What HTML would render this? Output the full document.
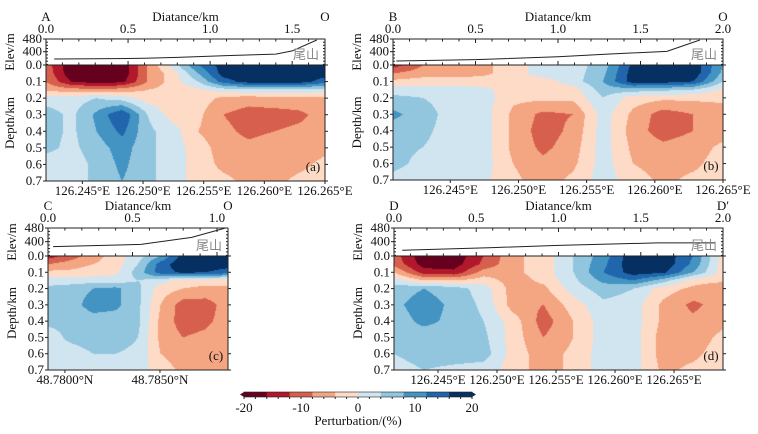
<!DOCTYPE html>
<html><head><meta charset="utf-8">
<style>
html,body{margin:0;padding:0;background:#fff;}
#wrap{position:relative;width:758px;height:434px;overflow:hidden;font-family:"Liberation Serif","Times New Roman","DejaVu Serif",serif;}
canvas{position:absolute;}
svg{position:absolute;left:0;top:0;font-family:"Liberation Serif","Times New Roman","DejaVu Serif",serif;}
svg text{font-family:"Liberation Serif","Times New Roman","DejaVu Serif",serif;}
svg text.cjk{font-family:"Noto Sans CJK SC","WenQuanYi Zen Hei",sans-serif;}
</style></head>
<body>
<div id="wrap">
<canvas id="cvA" style="left:46px;top:65px" width="279" height="116"></canvas>
<canvas id="cvB" style="left:393px;top:65px" width="330" height="115"></canvas>
<canvas id="cvC" style="left:48px;top:256px" width="180" height="114"></canvas>
<canvas id="cvD" style="left:394px;top:256px" width="329" height="114"></canvas>
<svg id="ov" width="758" height="434"></svg>
</div>
<script>
// ---- data ----
const depthRows=[0,0.05,0.1,0.15,0.2,0.3,0.4,0.5,0.6,0.7];
const levelColors=["#67001f","#b2182b","#d6604d","#f4a582","#fddbc7","#d1e5f0","#92c5de","#4393c3","#2166ac","#053061"];
const cbTicks=[-20,-10,0,10,20];
const gridA=[
[-10,-19,-19,-19,-8,2,12,18,19,19,19,18],
[-9,-19,-19,-19,-8,-2,8,18,19,19,19,18],
[-8,-16,-18,-17,-8,-2,4,14,18,18,18,14],
[-5,-6,-7,-6,-4,-2,-1,2,3,3,3,2],
[2,2,4,2,-2,-2,-2,-5,-6,-5,-5,-5],
[6,3,9,16,4,-2,-3,-8,-10,-10,-9,-6],
[6,3,8,13,5,2,-4,-7,-9,-8,-7,-6],
[5,3,6,10,5,2,-2,-6,-7,-6,-6,-5],
[2,2,5,9,5,2,-2,-5,-6,-6,-5,-3],
[2,2,5,8,5,2,-2,-3,-5,-5,-3,-2]];
const gridB=[
[-14,-8,-6,-5,-2,2,2,6,17,19,19,8],
[-8,-6,-6,-5,-2,2,2,7,18,19,19,7],
[-3,-2,-2,-2,-1,-2,2,8,18,18,16,4],
[2,2,2,1,-2,-2,-2,6,6,5,4,-1],
[5,4,2,2,-3,-3,-3,4,-2,-3,-3,-3],
[9,6,2,2,-5,-9,-8,2,-5,-10,-8,-6],
[6,5,2,2,-5,-10,-7,2,-6,-10,-8,-6],
[5,4,2,2,-5,-9,-6,2,-5,-7,-6,-3],
[5,3,2,2,-4,-7,-5,2,-4,-6,-5,-2],
[3,2,2,1,-3,-6,-3,2,-2,-5,-3,-2]];
const gridC=[
[-14,-10,-6,-2,2,8,18,19,19],
[-8,-6,-4,-2,4,14,19,19,18],
[-3,-3,-2,-1,6,14,17,16,14],
[2,2,2,2,4,2,-2,-2,-2],
[5,6,8,9,5,-2,-4,-5,-5],
[6,6,10,9,5,-4,-10,-10,-6],
[5,5,6,6,5,-5,-10,-9,-6],
[2,5,6,6,4,-5,-8,-7,-5],
[2,2,4,4,3,-4,-6,-6,-5],
[2,2,2,2,2,-2,-5,-5,-4]];
const gridD=[
[-10,-19,-19,-12,-5,-2,4,10,19,19,12,-2],
[-9,-18,-18,-11,-5,-2,4,11,19,19,11,-2],
[-4,-14,-15,-6,-5,-2,4,12,18,17,8,-2],
[2,-4,-4,-2,-6,-3,3,9,12,6,-2,-3],
[6,8,6,2,-6,-5,2,6,4,-2,-5,-8],
[7,10,7,3,-6,-8,-2,3,2,-5,-9,-6],
[6,9,7,4,-2,-10,-4,2,2,-5,-7,-5],
[6,6,6,5,-2,-8,-4,2,2,-6,-6,-3],
[4,6,6,6,-2,-6,-3,2,2,-6,-5,-2],
[2,4,3,2,-2,-6,-3,2,2,-5,-3,-2]];
const elevDistA=[0.05,0.3,0.6,0.8,1.1,1.4,1.5,1.65];
const elevA=[354,355,358,364,375,385,405,474];
const elevDistB=[0.02,0.5,1.0,1.3,1.66,1.86];
const elevB=[341,350,368,385,402,474];
const elevDistC=[0.03,0.55,0.85,1.05];
const elevC=[371,384,425,480];
const elevDistD=[0.05,0.6,1.0,1.6,1.95];
const elevD=[350,365,378,393,393];
const depthTicks=[0,0.1,0.2,0.3,0.4,0.5,0.6,0.7];
const elevTicks=[480,400];

// ---- rendering ----
function levelIndex(v){let i=Math.floor((v+20)/4);return Math.max(0,Math.min(9,i));}
function hexRgb(h){return [parseInt(h.substr(1,2),16),parseInt(h.substr(3,2),16),parseInt(h.substr(5,2),16)];}
const rgbLevels=levelColors.map(hexRgb);
function renderField(id,grid){
  const cv=document.getElementById(id),ctx=cv.getContext('2d');
  const w=cv.width,h=cv.height,img=ctx.createImageData(w,h);
  const nc=grid[0].length;
  for(let py=0;py<h;py++){
    const d=(py+0.5)/h*0.7;
    let r=0;while(r<depthRows.length-2&&d>depthRows[r+1])r++;
    const ty=Math.min(1,Math.max(0,(d-depthRows[r])/(depthRows[r+1]-depthRows[r])));
    for(let px=0;px<w;px++){
      const fx=(px+0.5)/w*(nc-1);
      let c=Math.min(nc-2,Math.floor(fx));const tx=fx-c;
      const v=(grid[r][c]*(1-tx)+grid[r][c+1]*tx)*(1-ty)+(grid[r+1][c]*(1-tx)+grid[r+1][c+1]*tx)*ty;
      const col=rgbLevels[levelIndex(v)],k=(py*w+px)*4;
      img.data[k]=col[0];img.data[k+1]=col[1];img.data[k+2]=col[2];img.data[k+3]=255;
    }
  }
  ctx.putImageData(img,0,0);
}
renderField('cvA',gridA);renderField('cvB',gridB);renderField('cvC',gridC);renderField('cvD',gridD);

const NS='http://www.w3.org/2000/svg',ov=document.getElementById('ov');
function mk(tag,attrs,parent){const e=document.createElementNS(NS,tag);for(const k in attrs)e.setAttribute(k,attrs[k]);(parent||ov).appendChild(e);return e;}
function txt(x,y,s,anchor,size,parent,fill){const t=mk('text',{x:x,y:y,'text-anchor':anchor||'middle','font-size':size||12,fill:fill||'#111'},parent);t.textContent=s;return t;}

const panels=[
 {id:'a',x0:46,x1:325,eTop:39,dTop:65,dBot:181,distMax:1.70,distTicks:[0,0.5,1.0,1.5],dom:[126.2420,126.2650],lonTicks:[126.245,126.250,126.255,126.260,126.265],dec:3,suf:'°E',ends:['A','O'],lab:'(a)',ed:elevDistA,ev:elevA},
 {id:'b',x0:393,x1:723,eTop:39,dTop:65,dBot:180,distMax:2.0,distTicks:[0,0.5,1.0,1.5,2.0],dom:[126.2408,126.2650],lonTicks:[126.245,126.250,126.255,126.260,126.265],dec:3,suf:'°E',ends:['B','O'],lab:'(b)',ed:elevDistB,ev:elevB},
 {id:'c',x0:48,x1:228,eTop:228,dTop:256,dBot:370,distMax:1.065,distTicks:[0,0.5,1.0],dom:[48.77911,48.78858],lonTicks:[48.78,48.785],dec:4,suf:'°N',ends:['C','O'],lab:'(c)',ed:elevDistC,ev:elevC},
 {id:'d',x0:394,x1:723,eTop:228,dTop:256,dBot:370,distMax:2.0,distTicks:[0,0.5,1.0,1.5,2.0],dom:[126.24127,126.26915],lonTicks:[126.245,126.250,126.255,126.260,126.265],dec:3,suf:'°E',ends:['D','D′'],lab:'(d)',ed:elevDistD,ev:elevD}
];
const eMin=316,eMax=480;
panels.forEach(p=>{
  const g=mk('g',{});
  
  
  const W=p.x1-p.x0,H=p.dBot-p.dTop,EH=p.dTop-p.eTop;
  const xd=d=>p.x0+d/p.distMax*W;
  const xl=l=>p.x0+(l-p.dom[0])/(p.dom[1]-p.dom[0])*W;
  const yd=z=>p.dTop+z/0.7*H;
  const ye=e=>p.dTop-(e-eMin)/(eMax-eMin)*EH;
  const fr=mk('rect',{x:p.x0,y:p.dTop,width:W,height:H,fill:'none',stroke:'#222','stroke-width':1},g);
  
  
  const ef=mk('rect',{x:p.x0,y:p.eTop,width:W,height:EH,fill:'none',stroke:'#222','stroke-width':1},g);
  
  
  for(let d=0;d<=p.distMax+1e-9;d+=0.1){
    const x=xd(d),maj=Math.abs(d*2-Math.round(d*2))<1e-6;
    mk('line',{x1:x,y1:p.eTop,x2:x,y2:p.eTop+(maj?4:2.5),stroke:'#222'},g);
    mk('line',{x1:x,y1:p.dTop,x2:x,y2:p.dTop-(maj?4:2.5),stroke:'#222'},g);
  }
  p.distTicks.forEach(d=>{const t=txt(xd(d),p.eTop-6,d.toFixed(1),'middle',13,g);
    
    });
  const dt=txt((p.x0+p.x1)/2,p.eTop-18,'Diatance/km','middle',13,g);
  
  
  const e0=txt(p.x0,p.eTop-18,p.ends[0],'middle',13,g);
  
  
  const e1=txt(p.x1,p.eTop-18,p.ends[1],'middle',13,g);
  
  
  depthTicks.forEach(z=>{const y=yd(z);
    mk('line',{x1:p.x0,y1:y,x2:p.x0-3,y2:y,stroke:'#222'},g);
    mk('line',{x1:p.x1,y1:y,x2:p.x1+3,y2:y,stroke:'#222'},g);
    const t=txt(p.x0-4,y+4,z.toFixed(1),'end',13,g);
    
    });
  elevTicks.forEach(e=>{const y=ye(e);
    mk('line',{x1:p.x0,y1:y,x2:p.x0-3,y2:y,stroke:'#222'},g);
    const t=txt(p.x0-4,y+4,String(e),'end',13,g);
    
    });
  for(let e=eMin+4;e<eMax;e+=20){const y=ye(e);mk('line',{x1:p.x0,y1:y,x2:p.x0+2,y2:y,stroke:'#222'},g);mk('line',{x1:p.x1,y1:y,x2:p.x1-2,y2:y,stroke:'#222'},g);}
  const et=txt(0,0,'Elev/m','middle',13,g);
  et.setAttribute('transform','translate('+(p.x0-32)+','+(p.eTop+EH/2)+') rotate(-90)');
  
  
  const dpt=txt(0,0,'Depth/km','middle',13,g);
  dpt.setAttribute('transform','translate('+(p.x0-32)+','+(p.dTop+H/2)+') rotate(-90)');
  
  
  const pts=p.ed.map((d,i)=>xd(d).toFixed(1)+','+ye(p.ev[i]).toFixed(1)).join(' ');
  const pl=mk('polyline',{points:pts,fill:'none',stroke:'#222','stroke-width':1},g);
  
  
  const ws=txt(p.x1-6,p.eTop+EH-6,'尾山','end',13,g,'#888');
  ws.setAttribute('class','cjk');
  
  
  p.lonTicks.forEach(l=>{const x=xl(l);
    mk('line',{x1:x,y1:p.dBot,x2:x,y2:p.dBot+3,stroke:'#222'},g);
    const t=txt(x,p.dBot+14,l.toFixed(p.dec)+p.suf,'middle',13,g);
    
    });
  const pl2=txt(p.x1-12,p.dBot-10,p.lab,'middle',13,g);
  
  
});
const cb=mk('g',{});


const cbX0=244,cbX1=472,cbY=392,cbH=5;
const cbx=v=>cbX0+(v+20)/40*(cbX1-cbX0);
levelColors.forEach((c,i)=>{const r=mk('rect',{x:cbx(-20+4*i),y:cbY,width:cbx(-16)-cbx(-20)+0.5,height:cbH,fill:c},cb);
  
  });
mk('polygon',{points:(cbX0-4)+','+(cbY+cbH/2)+' '+cbX0+','+cbY+' '+cbX0+','+(cbY+cbH),fill:levelColors[0]},cb);
mk('polygon',{points:(cbX1+4)+','+(cbY+cbH/2)+' '+cbX1+','+cbY+' '+cbX1+','+(cbY+cbH),fill:levelColors[9]},cb);
mk('rect',{x:cbX0,y:cbY,width:cbX1-cbX0,height:cbH,fill:'none',stroke:'#222','stroke-width':0.6},cb);
for(let v=-20;v<=20;v+=2){mk('line',{x1:cbx(v),y1:cbY+cbH,x2:cbx(v),y2:cbY+cbH+2,stroke:'#222'},cb);}
cbTicks.forEach(v=>{const t=txt(cbx(v),cbY+20,String(v),'middle',13,cb);
  
  });
const cbt=txt((cbX0+cbX1)/2,cbY+33,'Perturbation/(%)','middle',13,cb);


</script>
</body></html>
